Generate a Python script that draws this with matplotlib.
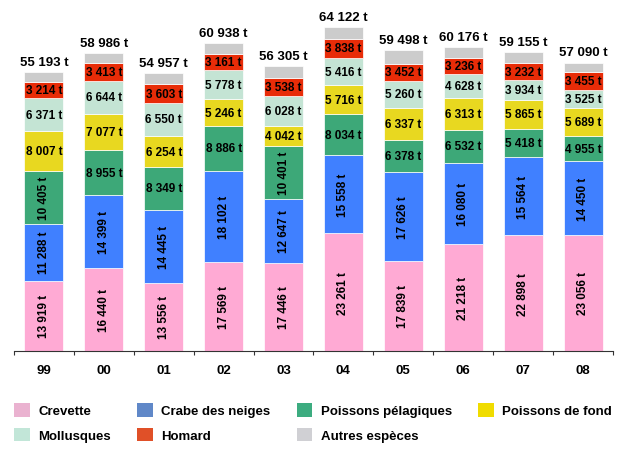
import numpy as np
import matplotlib.pyplot as plt
from matplotlib.patches import Patch

plt.rcParams['font.family'] = ['Liberation Sans', 'DejaVu Sans']

years = ['99', '00', '01', '02', '03', '04', '05', '06', '07', '08']
totals = [55193, 58986, 54957, 60938, 56305, 64122, 59498, 60176, 59155, 57090]

crevette = [13919, 16440, 13556, 17569, 17446, 23261, 17839, 21218, 22898, 23056]
crabe = [11288, 14399, 14445, 18102, 12647, 15558, 17626, 16080, 15564, 14450]
pelagiques = [10405, 8955, 8349, 8886, 10401, 8034, 6378, 6532, 5418, 4955]
fond = [8007, 7077, 6254, 5246, 4042, 5716, 6337, 6313, 5865, 5689]
mollusques = [6371, 6644, 6550, 5778, 6028, 5416, 5260, 4628, 3934, 3525]
homard = [3214, 3413, 3603, 3161, 3538, 3838, 3452, 3236, 3232, 3455]
# autres especes = total minus the labelled groups
autres = [t - a - b - c - d - e - f for t, a, b, c, d, e, f in
          zip(totals, crevette, crabe, pelagiques, fond, mollusques, homard)]

names = ['Crevette', 'Crabe des neiges', 'Poissons pélagiques', 'Poissons de fond',
         'Mollusques', 'Homard', 'Autres espèces']
series = [crevette, crabe, pelagiques, fond, mollusques, homard, autres]
bar_colors = ['#FFAAD4', '#4080FF', '#3DA878', '#E8D820', '#C4E4D4', '#E82C08', '#CCCCCC']
leg_colors = ['#EAB2D0', '#6088C8', '#3CAC80', '#F0DC00', '#C2E6D8', '#E05028', '#D0D0D4']


def fmt(v):
    return '{:,}'.format(v).replace(',', ' ') + ' t'


fig = plt.figure(figsize=(6.21, 4.52), dpi=100)
ax = fig.add_axes([0.0225, 0.2212, 0.9646, 0.7714])

x = np.arange(len(years))
bottom = np.zeros(len(years))
for i, vals in enumerate(series):
    vals = np.array(vals)
    ax.bar(x, vals, 0.65, bottom=bottom, color=bar_colors[i],
           edgecolor='white', linewidth=0.5)
    if i < 6:
        for j in range(len(years)):
            rot = 90 if vals[j] >= 10000 else 0
            ax.text(x[j], bottom[j] + vals[j] / 2, fmt(vals[j]), ha='center', va='center',
                    rotation=rot, fontsize=8.5, fontweight='bold', color='black')
    bottom += vals

for j in range(len(years)):
    ax.annotate(fmt(totals[j]), (x[j], totals[j]), xytext=(0, 3), textcoords='offset points',
                ha='center', va='bottom', fontsize=9.5, fontweight='bold')

ax.set_xlim(-0.5, len(years) - 0.5)
ax.set_ylim(0, 69000)
for s in ['top', 'right', 'left']:
    ax.spines[s].set_visible(False)
ax.spines['bottom'].set_color('#333333')
ax.set_yticks([])
ax.set_xticks(np.arange(-0.5, len(years)), minor=False)
ax.set_xticklabels([])
ax.set_xticks(x, minor=True)
ax.set_xticklabels(years, minor=True, fontsize=9.5, fontweight='bold')
ax.tick_params(axis='x', which='major', length=3, color='#333333')
ax.tick_params(axis='x', which='minor', length=0, pad=9)

handles = [Patch(facecolor=c, edgecolor='none') for c in leg_colors]
order = [0, 4, 1, 5, 2, 6, 3]
fig.legend([handles[k] for k in order], [names[k] for k in order], ncol=4,
           loc='upper left', bbox_to_anchor=(0.0225, 0.1062), frameon=False,
           prop={'weight': 'bold', 'size': 9.5}, borderpad=0, borderaxespad=0,
           handlelength=1.2, handleheight=1.2, handletextpad=0.64,
           columnspacing=1.98, labelspacing=0.78)

fig.savefig('out.png', dpi=100)
